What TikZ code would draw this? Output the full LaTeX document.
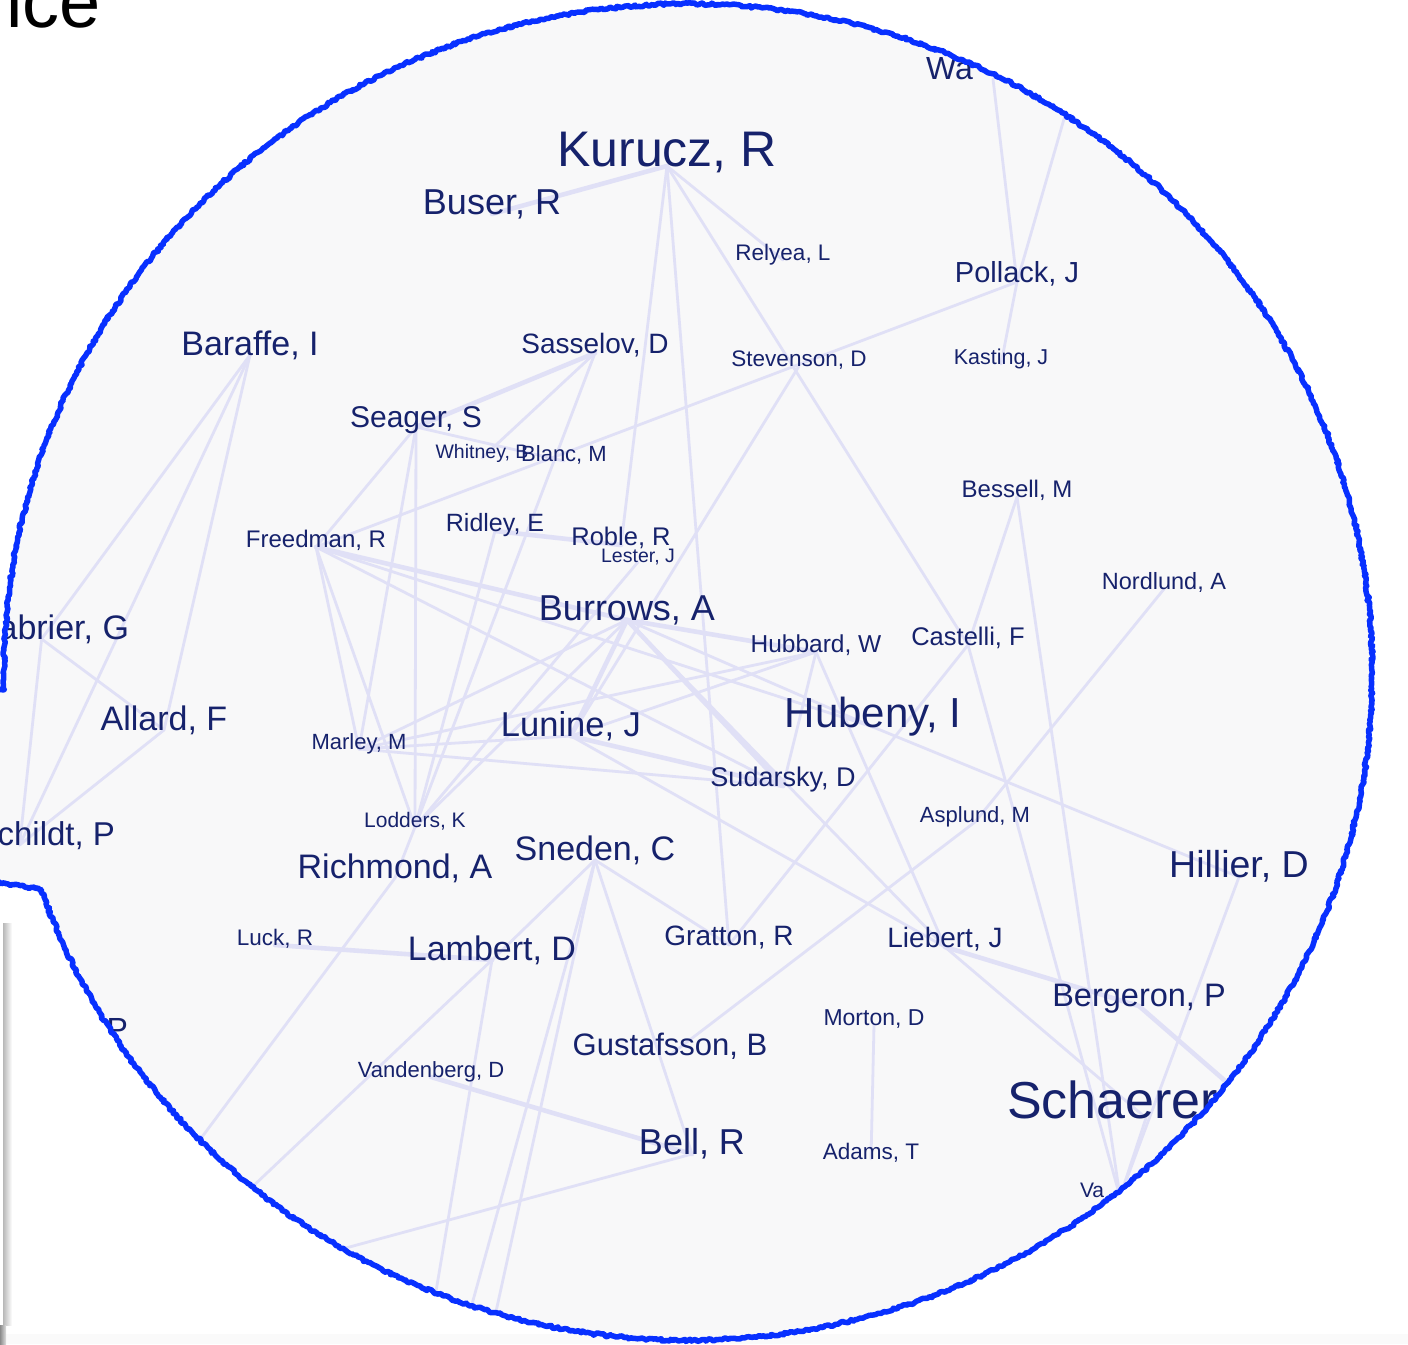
\documentclass[tikz,border=0pt]{standalone}
\usepackage{fontspec}
\setmainfont{Liberation Sans}
\usetikzlibrary{decorations.pathmorphing}
\definecolor{navy}{RGB}{22,34,108}
\definecolor{edgec}{RGB}{224,224,246}
\definecolor{lensfill}{RGB}{248,248,249}
\definecolor{lensblue}{RGB}{8,48,255}
\newcommand{\fsz}[1]{\fontsize{#1}{#1}\selectfont}
\pgfdeclarelayer{bg}
\pgfsetlayers{bg,main}
\tikzset{
  lbl/.style={anchor=base, inner sep=0pt, outer sep=0pt, text=navy},
  lk/.style={draw=edgec, line width=2.8pt, line cap=round},
  lkk/.style={draw=edgec, line width=4.6pt, line cap=round},
}
\newcommand{\lenspath}{(-12,881) -- (41.3,889.5) arc[start angle=161, end angle=-181.5, x radius=684, y radius=668] -- (-12,689.5) -- cycle}
\begin{document}
\begin{tikzpicture}[x=1pt, y=-1pt]
\useasboundingbox (0,0) rectangle (1408,1344);
\begin{pgfonlayer}{bg}
  \fill[white] (0,0) rectangle (1408,1344);
  \fill[black!2] (0,1334) rectangle (1408,1344);
  \shade[left color=black!28, right color=white] (3,923) rectangle (12,1325);
  \shade[left color=black!45, right color=black!12] (0,1325) rectangle (6,1344);
  \fill[lensfill] \lenspath;
\end{pgfonlayer}

\begin{scope}
  \clip \lenspath;
  \node[lbl, font=\fsz{50}] (kurucz) at (667,166) {Kurucz, R};
  \node[lbl, font=\fsz{36}] (buser) at (492,214) {Buser, R};
  \node[lbl, font=\fsz{22.5}] (relyea) at (783,260) {Relyea, L};
  \node[lbl, font=\fsz{29}] (pollack) at (1017,282) {Pollack, J};
  \node[lbl, font=\fsz{32}, anchor=base west] (wa) at (926,79) {Wa};
  \node[lbl, font=\fsz{34}] (baraffe) at (250,355) {Baraffe, I};
  \node[lbl, font=\fsz{28}] (sasselov) at (595,353) {Sasselov, D};
  \node[lbl, font=\fsz{22.5}] (stevenson) at (799,366) {Stevenson, D};
  \node[lbl, font=\fsz{21.5}] (kasting) at (1001,364) {Kasting, J};
  \node[lbl, font=\fsz{30}] (seager) at (416,427) {Seager, S};
  \node[lbl, font=\fsz{19.5}] (whitney) at (482,458) {Whitney, B};
  \node[lbl, font=\fsz{22}] (blanc) at (564,461) {Blanc, M};
  \node[lbl, font=\fsz{24}] (bessell) at (1017,497) {Bessell, M};
  \node[lbl, font=\fsz{24}] (freedman) at (316,547) {Freedman, R};
  \node[lbl, font=\fsz{25}] (ridley) at (495,531) {Ridley, E};
  \node[lbl, font=\fsz{25.5}] (roble) at (621,545) {Roble, R};
  \node[lbl, font=\fsz{19.5}] (lester) at (638,562) {Lester, J};
  \node[lbl, font=\fsz{23.5}] (nordlund) at (1164,589) {Nordlund, A};
  \node[lbl, font=\fsz{36}] (burrows) at (627,620) {Burrows, A};
  \node[lbl, font=\fsz{34}, anchor=base east] (chabrier) at (129,639) {abrier, G};
  \node[lbl, font=\fsz{24.5}] (hubbard) at (816,652) {Hubbard, W};
  \node[lbl, font=\fsz{25.5}] (castelli) at (968,645) {Castelli, F};
  \node[lbl, font=\fsz{34}] (allard) at (164,730) {Allard, F};
  \node[lbl, font=\fsz{42}] (hubeny) at (873,727) {Hubeny, I};
  \node[lbl, font=\fsz{22}] (marley) at (359,749) {Marley, M};
  \node[lbl, font=\fsz{34.5}] (lunine) at (571,736) {Lunine, J};
  \node[lbl, font=\fsz{27}] (sudarsky) at (783,786) {Sudarsky, D};
  \node[lbl, font=\fsz{22}] (asplund) at (975,822) {Asplund, M};
  \node[lbl, font=\fsz{33}, anchor=base east] (hauschildt) at (115,845) {childt, P};
  \node[lbl, font=\fsz{21}] (lodders) at (415,827) {Lodders, K};
  \node[lbl, font=\fsz{34}] (sneden) at (595,860) {Sneden, C};
  \node[lbl, font=\fsz{37.5}] (hillier) at (1239,877) {Hillier, D};
  \node[lbl, font=\fsz{34}] (richmond) at (395,878) {Richmond, A};
  \node[lbl, font=\fsz{22.5}] (luck) at (275,945) {Luck, R};
  \node[lbl, font=\fsz{34}] (lambert) at (492,960) {Lambert, D};
  \node[lbl, font=\fsz{28}] (gratton) at (729,945) {Gratton, R};
  \node[lbl, font=\fsz{28}] (liebert) at (945,947) {Liebert, J};
  \node[lbl, font=\fsz{32.5}] (bergeron) at (1139,1006) {Bergeron, P};
  \node[lbl, font=\fsz{23}] (morton) at (874,1025) {Morton, D};
  \node[lbl, font=\fsz{31}] (gustafsson) at (670,1055) {Gustafsson, B};
  \node[lbl, font=\fsz{32}, anchor=base east] (pfrag) at (128,1040) {P};
  \node[lbl, font=\fsz{22}] (vandenberg) at (431,1077) {Vandenberg, D};
  \node[lbl, font=\fsz{52}, anchor=base west] (schaerer) at (1007,1118) {Schaerer};
  \node[lbl, font=\fsz{36}] (bell) at (692,1154) {Bell, R};
  \node[lbl, font=\fsz{22.5}] (adams) at (871,1159) {Adams, T};
  \node[lbl, font=\fsz{21}, anchor=base west] (va) at (1080,1197) {Va};
\end{scope}

\coordinate (offne) at (1081,60);
\coordinate (offse) at (1300,1146);
\coordinate (offs1) at (451,1380);
\coordinate (offs2) at (481,1380);
\coordinate (offs3) at (421,1380);
\coordinate (offsw1) at (175,1260);
\coordinate (offsw2) at (155,1200);
\coordinate (offsw3) at (250,1274);

\begin{pgfonlayer}{bg}
\begin{scope}
  \clip \lenspath;
  % Kurucz
  \draw[lkk] (kurucz.base) -- (buser.base);
  \draw[lk] (kurucz.base) -- (relyea.base);
  \draw[lk] (kurucz.base) -- (roble.base);
  \draw[lk] (kurucz.base) -- (gratton.base);
  \draw[lk] (kurucz.base) -- (castelli.base);
  % Pollack
  \draw[lk] ([xshift=67pt]wa.base west) -- (pollack.base);
  \draw[lk] (offne) -- (pollack.base);
  \draw[lk] (pollack.base) -- (kasting.base);
  \draw[lk] (pollack.base) -- (freedman.base);
  \draw[lk] (stevenson.base) -- (lunine.base);
  % Baraffe group
  \draw[lk] (baraffe.base) -- ([xshift=43pt]chabrier.base west);
  \draw[lk] (baraffe.base) -- (allard.base);
  \draw[lk] (baraffe.base) -- ([xshift=22pt]hauschildt.base west);
  \draw[lk] ([xshift=43pt]chabrier.base west) -- (allard.base);
  \draw[lk] ([xshift=43pt]chabrier.base west) -- ([xshift=22pt]hauschildt.base west);
  \draw[lk] (allard.base) -- ([xshift=22pt]hauschildt.base west);
  % Sasselov / Seager
  \draw[lkk] (sasselov.base) -- (seager.base);
  \draw[lk] (sasselov.base) -- (whitney.base);
  \draw[lk] (sasselov.base) -- (lodders.base);
  \draw[lk] (seager.base) -- (lodders.base);
  \draw[lk] (seager.base) -- (freedman.base);
  \draw[lk] (seager.base) -- (marley.base);
  \draw[lk] (seager.base) -- (blanc.base);
  \draw[lk] (ridley.base) -- (lodders.base);
  \draw[lkk] (ridley.base) -- (roble.base);
  \draw[lk] (lester.base) -- (lodders.base);
  % Freedman
  \draw[lkk] (freedman.base) -- (burrows.base);
  \draw[lk] (freedman.base) -- (hubeny.base);
  \draw[lk] (freedman.base) -- (sudarsky.base);
  \draw[lk] (freedman.base) -- (marley.base);
  \draw[lk] (freedman.base) -- (lodders.base);
  % Burrows
  \draw[lkk] (burrows.base) -- (hubbard.base);
  \draw[lk] (burrows.base) -- (hubeny.base);
  \draw[lkk] (burrows.base) -- (sudarsky.base);
  \draw[lk] (burrows.base) -- (liebert.base);
  \draw[lkk] (burrows.base) -- (lunine.base);
  \draw[lk] (burrows.base) -- (marley.base);
  \draw[lk] (burrows.base) -- (lodders.base);
  % Marley / Lunine / Hubbard
  \draw[lk] (marley.base) -- (hubbard.base);
  \draw[lk] (marley.base) -- (lunine.base);
  \draw[lk] (marley.base) -- (sudarsky.base);
  \draw[lkk] (lunine.base) -- (sudarsky.base);
  \draw[lk] (lunine.base) -- (liebert.base);
  \draw[lk] (lunine.base) -- (hubbard.base);
  \draw[lk] (hubbard.base) -- (sudarsky.base);
  \draw[lk] (hubbard.base) -- (liebert.base);
  % Castelli / Bessell / right side
  \draw[lk] (castelli.base) -- (bessell.base);
  \draw[lk] (castelli.base) -- (gratton.base);
  \draw[lk] (castelli.base) -- ([xshift=40pt]va.base west);
  \draw[lk] (bessell.base) -- ([xshift=40pt]va.base west);
  \draw[lk] (nordlund.base) -- (asplund.base);
  \draw[lk] (asplund.base) -- (gustafsson.base);
  \draw[lk] (hubeny.base) -- (hillier.base);
  \draw[lk] (hillier.base) -- ([xshift=40pt]va.base west);
  \draw[lkk] (liebert.base) -- (bergeron.base);
  \draw[lk] (liebert.base) -- ([xshift=139pt]schaerer.base west);
  \draw[lkk] (bergeron.base) -- (offse);
  \draw[lk] ([xshift=139pt]schaerer.base west) -- ([xshift=40pt]va.base west);
  % Sneden / Lambert / lower left
  \draw[lk] (sneden.base) -- (lambert.base);
  \draw[lk] (sneden.base) -- (gratton.base);
  \draw[lk] (sneden.base) -- (bell.base);
  \draw[lk] (sneden.base) -- (offs1);
  \draw[lk] (sneden.base) -- (offs2);
  \draw[lkk] (lambert.base) -- (luck.base);
  \draw[lk] (lambert.base) -- (offs3);
  \draw[lk] (lambert.base) -- (offsw1);
  \draw[lk] (richmond.base) -- (lodders.base);
  \draw[lk] (richmond.base) -- (offsw2);
  \draw[lkk] (vandenberg.base) -- (bell.base);
  \draw[lk] (bell.base) -- (offsw3);
  \draw[lk] (morton.base) -- (adams.base);
\end{scope}
\end{pgfonlayer}

\pgfmathsetseed{7}
\draw[lensblue, line width=5.5pt, line join=round, line cap=round, decorate,
  decoration={random steps, segment length=2.2pt, amplitude=1.3pt}]
  (-12,881) -- (41.3,889.5) arc[start angle=161, end angle=-181.5, x radius=684, y radius=668] -- (-12,689.5);

\node[anchor=base west, inner sep=0pt, font=\fsz{74}] (ice) at (6,27) {ice};
\end{tikzpicture}
\end{document}
